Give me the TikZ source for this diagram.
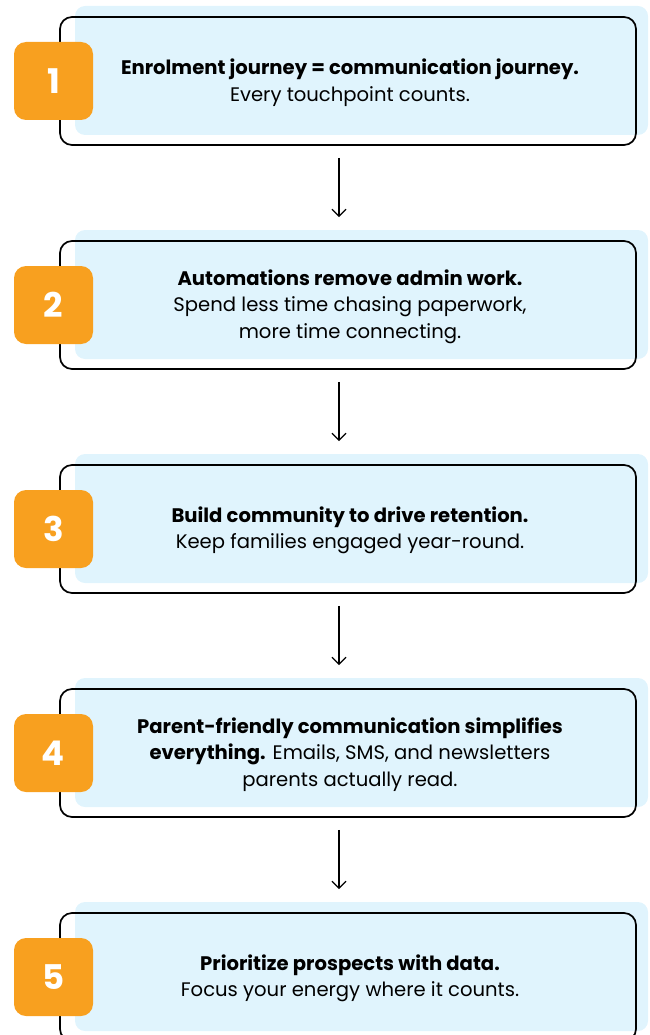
\documentclass[tikz,border=0pt]{standalone}
\usepackage{fontspec}
\setmainfont{Poppins}
\pgfdeclarelayer{bg}
\pgfsetlayers{bg,main}
\usetikzlibrary{arrows.meta,positioning,calc}
\definecolor{skyfill}{HTML}{E0F4FD}
\definecolor{badgeorange}{HTML}{F8A01F}

\tikzset{
  card/.style={draw=black, line width=1.7pt, rounded corners=12pt, minimum width=576pt, minimum height=128pt},
  shade/.style={fill=skyfill, rounded corners=10pt, minimum width=573pt, minimum height=129pt},
  badge/.style={fill=badgeorange, rounded corners=12pt, minimum width=79pt, minimum height=78pt, text=white, font=\fontsize{34}{34}\selectfont\bfseries},
  blurb/.style={align=center, font=\fontsize{19.6}{26.5}\selectfont},
  flow/.style={-{Straight Barb[length=7pt,width=14pt]}, line width=1.3pt, shorten <=12pt, shorten >=23pt}
}

\begin{document}
\begin{tikzpicture}[x=1pt,y=1pt]
  \useasboundingbox (0,0) rectangle (649,-1035);
  \node[card] (card1) at (348,-81) {};
  \node[card, below = 94.3pt of card1] (card2) {};
  \node[card, below = 94.3pt of card2] (card3) {};
  \node[card, below = 94.3pt of card3] (card4) {};
  \node[card, below = 94.3pt of card4] (card5) {};
  \begin{pgfonlayer}{bg}
    \node[shade] (shade1) at ($(card1.center)+(13.5,10.5)$) {};
    \node[shade] (shade2) at ($(card2.center)+(13.5,10.5)$) {};
    \node[shade] (shade3) at ($(card3.center)+(13.5,10.5)$) {};
    \node[shade] (shade4) at ($(card4.center)+(13.5,10.5)$) {};
    \node[shade] (shade5) at ($(card5.center)+(13.5,10.5)$) {};
  \end{pgfonlayer}
  \node[badge] (badge1) at ($(card1.center)+(-294.5,0)$) {1};
  \node[badge] (badge2) at ($(card2.center)+(-294.5,0)$) {2};
  \node[badge] (badge3) at ($(card3.center)+(-294.5,0)$) {3};
  \node[badge] (badge4) at ($(card4.center)+(-294.5,0)$) {4};
  \node[badge] (badge5) at ($(card5.center)+(-294.5,0)$) {5};
  \node[blurb] (text1) at ($(card1.center)+(2,-1.5)$) {\textbf{Enrolment journey = communication journey.}\\Every touchpoint counts.};
  \node[blurb] (text2) at ($(card2.center)+(2,-1.5)$) {\textbf{Automations remove admin work.}\\Spend less time chasing paperwork,\\more time connecting.};
  \node[blurb] (text3) at ($(card3.center)+(2,-1.5)$) {\textbf{Build community to drive retention.}\\Keep families engaged year-round.};
  \node[blurb] (text4) at ($(card4.center)+(2,-1.5)$) {\textbf{Parent-friendly communication simplifies}\\\textbf{everything.} Emails, SMS, and newsletters\\parents actually read.};
  \node[blurb] (text5) at ($(card5.center)+(2,-1.5)$) {\textbf{Prioritize prospects with data.}\\Focus your energy where it counts.};
  \draw[flow] ($(card1.south)+(-9,0)$) -- ($(card2.north)+(-9,0)$);
  \draw[flow] ($(card2.south)+(-9,0)$) -- ($(card3.north)+(-9,0)$);
  \draw[flow] ($(card3.south)+(-9,0)$) -- ($(card4.north)+(-9,0)$);
  \draw[flow] ($(card4.south)+(-9,0)$) -- ($(card5.north)+(-9,0)$);
\end{tikzpicture}
\end{document}
